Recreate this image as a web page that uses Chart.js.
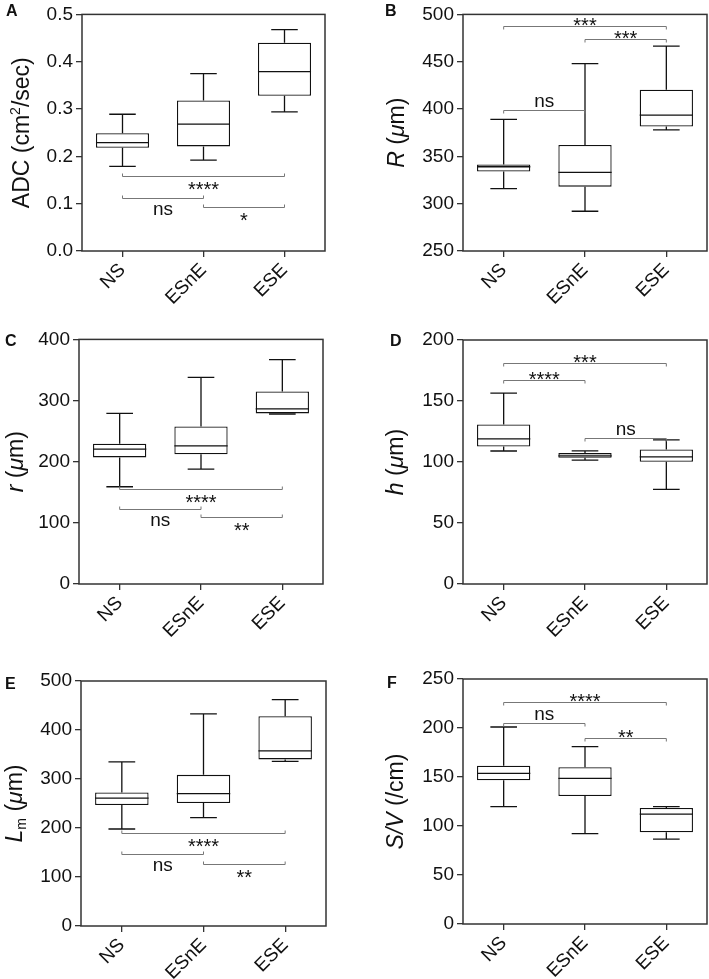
<!DOCTYPE html>
<html>
<head>
<meta charset="utf-8">
<script src="https://cdn.jsdelivr.net/npm/chart.js@4.4.0/dist/chart.umd.min.js"></script>
<style>
  body { margin: 0; background: #fff; }
  #fig { position: relative; width: 709px; height: 979px; }
  #fig canvas { position: absolute; }
</style>
</head>
<body>
<div id="fig">
  <canvas id="chartA" width="354" height="325" style="left:0;top:0"></canvas>
  <canvas id="chartB" width="355" height="325" style="left:354px;top:0"></canvas>
  <canvas id="chartC" width="354" height="325" style="left:0;top:325px"></canvas>
  <canvas id="chartD" width="355" height="325" style="left:354px;top:325px"></canvas>
  <canvas id="chartE" width="354" height="329" style="left:0;top:650px"></canvas>
  <canvas id="chartF" width="355" height="329" style="left:354px;top:650px"></canvas>
</div>
<script>
const FAMILY = '"Liberation Sans", Arial, Helvetica, sans-serif';

const groups = ['NS', 'ESnE', 'ESE'];

// box values per group: [min, q1, median, q3, max]
const adcBox = [[0.179, 0.218, 0.229, 0.249, 0.289], [0.192, 0.221, 0.268, 0.318, 0.375], [0.294, 0.328, 0.379, 0.440, 0.468]];
const bigRBox = [[316, 334, 339, 341.5, 389], [292, 318, 333, 362, 448], [378, 381.5, 393.5, 420.5, 466.5]];
const smallRBox = [[159, 207, 220.5, 229.5, 279], [188, 212, 226, 257.5, 338], [278, 279, 286.5, 315, 367]];
const hBox = [[109, 112.7, 119, 130.7, 156.4], [101.5, 103.4, 105.1, 107.3, 109.2], [77.5, 100.2, 104.2, 110.3, 118.2]];
const lmBox = [[198, 247, 261, 272.5, 335], [221, 251, 270, 308.5, 433], [336, 340, 357.5, 428, 462]];
const svBox = [[119.7, 146.6, 153.7, 161.6, 201], [92.2, 130.6, 148.6, 159.9, 181], [86.7, 93.5, 112.2, 118.4, 119.7]];

// significance brackets: [from group, to group, y value, label]
const adcSig = [[0, 2, 0.158, '****'], [0, 1, 0.112, 'ns'], [1, 2, 0.094, '*']];
const bigRSig = [[0, 2, 487.4, '***'], [1, 2, 473.7, '***'], [0, 1, 398.6, 'ns']];
const smallRSig = [[0, 2, 156, '****'], [0, 1, 123.3, 'ns'], [1, 2, 110.2, '**']];
const hSig = [[0, 2, 181, '***'], [0, 1, 167.3, '****'], [1, 2, 120, 'ns']];
const lmSig = [[0, 2, 189.4, '****'], [0, 1, 146.5, 'ns'], [1, 2, 126.7, '**']];
const svSig = [[0, 2, 226.2, '****'], [0, 1, 204.7, 'ns'], [1, 2, 190.1, '**']];

// y axis: [min, max, step]
const adcTicks = [0, 0.5, 0.1];
const bigRTicks = [250, 500, 50];
const smallRTicks = [0, 400, 100];
const hTicks = [0, 200, 50];
const lmTicks = [0, 500, 100];
const svTicks = [0, 250, 50];

// y axis titles, split in runs so italics / super / subscripts can be mixed
const adcTitle = [{ t: 'ADC (cm' }, { t: '2', sup: true }, { t: '/sec)' }];
const bigRTitle = [{ t: 'R', i: true }, { t: ' (' }, { t: 'μ', i: true }, { t: 'm)' }];
const smallRTitle = [{ t: 'r', i: true }, { t: ' (' }, { t: 'μ', i: true }, { t: 'm)' }];
const hTitle = [{ t: 'h', i: true }, { t: ' (' }, { t: 'μ', i: true }, { t: 'm)' }];
const lmTitle = [{ t: 'L', i: true }, { t: 'm', sub: true }, { t: ' (' }, { t: 'μ', i: true }, { t: 'm)' }];
const svTitle = [{ t: 'S/V', i: true }, { t: ' (/cm)' }];

function drawTitle(ctx, parts, cx, cy, size) {
  const fontFor = p => `${p.i ? 'italic ' : ''}${(p.sup || p.sub) ? Math.round(size * 0.62) : size}px ${FAMILY}`;
  ctx.save();
  ctx.translate(cx, cy);
  ctx.rotate(-Math.PI / 2);
  let total = 0;
  parts.forEach(p => { ctx.font = fontFor(p); p.w = ctx.measureText(p.t).width; total += p.w; });
  let x = -total / 2;
  const base = size * 0.36;
  ctx.fillStyle = '#111';
  ctx.textBaseline = 'alphabetic';
  ctx.textAlign = 'left';
  parts.forEach(p => {
    ctx.font = fontFor(p);
    let y = base;
    if (p.sup) y = base - size * 0.42;
    if (p.sub) y = base + size * 0.18;
    ctx.fillText(p.t, x, y);
    x += p.w;
  });
  ctx.restore();
}

const boxPlugin = {
  id: 'boxWhiskers',
  afterDatasetsDraw(chart, args, opts) {
    const ctx = chart.ctx;
    const y = chart.scales.y;
    const meta = chart.getDatasetMeta(0);
    ctx.save();
    ctx.strokeStyle = '#111';
    ctx.lineWidth = 1.3;
    meta.data.forEach((bar, i) => {
      const [mn, q1, med, q3, mx] = opts.box[i];
      const cx = bar.x, hw = bar.width / 2, cap = bar.width / 4;
      ctx.beginPath();
      ctx.moveTo(cx - hw, y.getPixelForValue(med));
      ctx.lineTo(cx + hw, y.getPixelForValue(med));
      ctx.moveTo(cx, y.getPixelForValue(q3));
      ctx.lineTo(cx, y.getPixelForValue(mx));
      ctx.moveTo(cx - cap, y.getPixelForValue(mx));
      ctx.lineTo(cx + cap, y.getPixelForValue(mx));
      ctx.moveTo(cx, y.getPixelForValue(q1));
      ctx.lineTo(cx, y.getPixelForValue(mn));
      ctx.moveTo(cx - cap, y.getPixelForValue(mn));
      ctx.lineTo(cx + cap, y.getPixelForValue(mn));
      ctx.stroke();
    });
    ctx.restore();
  },
  afterDraw(chart, args, opts) {
    const ctx = chart.ctx;
    const a = chart.chartArea;
    const x = chart.scales.x, y = chart.scales.y;
    ctx.save();
    // frame round the plot
    ctx.strokeStyle = '#333';
    ctx.lineWidth = 1.5;
    ctx.strokeRect(a.left, a.top, a.right - a.left, a.bottom - a.top);
    // significance brackets
    const below = opts.place === 'below';
    const dir = below ? -1 : 1;
    opts.sig.forEach(([i, j, v, label]) => {
      const x1 = x.getPixelForValue(i), x2 = x.getPixelForValue(j);
      const py = Math.round(y.getPixelForValue(v)) + 0.5;
      ctx.strokeStyle = '#777';
      ctx.lineWidth = 1;
      ctx.beginPath();
      ctx.moveTo(x1, py + dir * 3);
      ctx.lineTo(x1, py);
      ctx.lineTo(x2, py);
      ctx.lineTo(x2, py + dir * 3);
      ctx.stroke();
      const stars = label.indexOf('*') === 0;
      ctx.fillStyle = '#111';
      ctx.textAlign = 'center';
      ctx.textBaseline = 'alphabetic';
      ctx.font = (stars ? 20 : 19) + 'px ' + FAMILY;
      let ty;
      if (below) ty = py + (stars ? 19 : 16);
      else ty = py + (stars ? 5 : -4);
      ctx.fillText(label, (x1 + x2) / 2, ty);
    });
    // y title and panel letter
    drawTitle(ctx, opts.title, a.left - opts.titleGap, (a.top + a.bottom) / 2, 23);
    ctx.font = 'bold 16px ' + FAMILY;
    ctx.fillStyle = '#111';
    ctx.textAlign = 'left';
    ctx.fillText(opts.letter, opts.letterPos[0], opts.letterPos[1]);
    ctx.restore();
  }
};

function makePanel(id, box, sig, ticks, title, layout) {
  const [yMin, yMax, yStep] = ticks;
  const decimals = yStep < 1 ? 1 : 0;
  new Chart(document.getElementById(id), {
    type: 'bar',
    data: {
      labels: groups,
      datasets: [{
        data: box.map(b => [b[1], b[3]]),
        backgroundColor: '#fff',
        borderColor: '#111',
        borderWidth: 1.3,
        borderSkipped: false,
        categoryPercentage: 1,
        barPercentage: 0.655
      }]
    },
    options: {
      responsive: false,
      animation: false,
      layout: { autoPadding: false, padding: { left: 0, right: layout.right, top: layout.top, bottom: 0 } },
      plugins: {
        legend: { display: false },
        tooltip: { enabled: false },
        boxWhiskers: { box, sig, title, place: layout.place, titleGap: layout.titleGap, letter: layout.letter, letterPos: layout.letterPos }
      },
      scales: {
        x: {
          offset: true,
          border: { display: false },
          grid: { offset: false, drawOnChartArea: false, tickLength: 6, color: '#333', lineWidth: 1.3 },
          ticks: { autoSkip: false, minRotation: 45, maxRotation: 45, padding: 2, color: '#111', font: { size: 19, family: FAMILY } },
          afterFit: s => { s.height = layout.xHeight; }
        },
        y: {
          min: yMin,
          max: yMax,
          border: { display: false },
          grid: { drawOnChartArea: false, tickLength: 6, color: '#333', lineWidth: 1.3 },
          ticks: {
            stepSize: yStep,
            padding: 3,
            color: '#111',
            font: { size: 19, family: FAMILY },
            callback: v => v.toFixed(decimals)
          },
          afterFit: s => { s.width = layout.yWidth; }
        }
      }
    },
    plugins: [boxPlugin]
  });
}

makePanel('chartA', adcBox, adcSig, adcTicks, adcTitle,
  { yWidth: 82, right: 29, top: 7, xHeight: 74, place: 'below', titleGap: 61, letter: 'A', letterPos: [6, 16] });
makePanel('chartB', bigRBox, bigRSig, bigRTicks, bigRTitle,
  { yWidth: 109, right: 2, top: 7, xHeight: 74, place: 'above', titleGap: 67, letter: 'B', letterPos: [31, 16] });
makePanel('chartC', smallRBox, smallRSig, smallRTicks, smallRTitle,
  { yWidth: 79, right: 31, top: 14, xHeight: 66, place: 'below', titleGap: 64, letter: 'C', letterPos: [5, 21] });
makePanel('chartD', hBox, hSig, hTicks, hTitle,
  { yWidth: 109, right: 2, top: 15, xHeight: 66, place: 'above', titleGap: 68, letter: 'D', letterPos: [36, 21] });
makePanel('chartE', lmBox, lmSig, lmTicks, lmTitle,
  { yWidth: 81, right: 28, top: 31, xHeight: 53, place: 'below', titleGap: 67, letter: 'E', letterPos: [5, 39] });
makePanel('chartF', svBox, svSig, svTicks, svTitle,
  { yWidth: 109, right: 2, top: 29, xHeight: 55, place: 'above', titleGap: 68, letter: 'F', letterPos: [33, 38] });
</script>
</body>
</html>
